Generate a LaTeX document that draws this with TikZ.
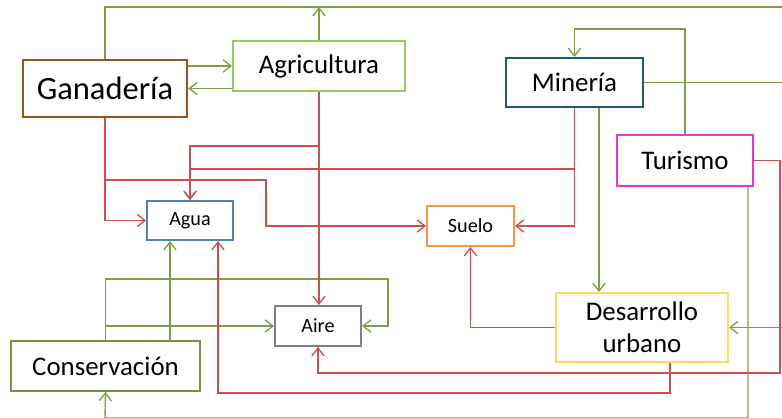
\documentclass[tikz,border=0pt]{standalone}
\usepackage{fontspec}
\setmainfont{Carlito}
\usetikzlibrary{arrows.meta, positioning, calc}
\usepackage{xcolor}
\definecolor{lineGreen}{HTML}{7E9F46}
\definecolor{lineRed}{HTML}{C9504D}
\definecolor{ganColor}{HTML}{A0501A}
\definecolor{agrColor}{HTML}{9BC95B}
\definecolor{minColor}{HTML}{23596B}
\definecolor{turColor}{HTML}{E03AD6}
\definecolor{aguaColor}{HTML}{4F81BD}
\definecolor{sueloColor}{HTML}{F79646}
\definecolor{aireColor}{HTML}{808080}
\definecolor{desColor}{HTML}{FFD966}
\definecolor{conColor}{HTML}{77933C}

\begin{document}
\begin{tikzpicture}[x=0.02cm, y=-0.02cm,
    box/.style={draw, line width=1.1pt, fill=white, align=center, inner sep=0pt},
    bigtext/.style={font=\fontsize{15.3}{18}\selectfont},
    smalltext/.style={font=\fontsize{11.5}{13}\selectfont},
    gline/.style={draw=lineGreen, line width=0.75pt},
    rline/.style={draw=lineRed, line width=0.75pt},
    >={Straight Barb[length=4.5pt,width=7pt]}]
    \useasboundingbox (0,0) rectangle (782,417);
    \clip (0,0) rectangle (782,417);
    % Sources
    \node[box, draw=ganColor, line width=1.4pt, minimum width=3.28cm, minimum height=1.14cm,
          font=\fontsize{18.5}{20}\selectfont] (gan) at (105,88.5) {Ganadería};
    \node[box, bigtext, draw=agrColor, minimum width=3.44cm, minimum height=1cm] (agr) at (319,66) {Agricultura};
    \node[box, bigtext, draw=minColor, minimum width=2.74cm, minimum height=0.98cm] (min) at (574.5,82.5) {Minería};
    \node[box, bigtext, draw=turColor, minimum width=2.72cm, minimum height=1.02cm] (tur) at (685,160.5) {Turismo};
    \node[box, bigtext, draw=desColor, minimum width=3.44cm, minimum height=1.38cm] (des) at (642,327.5) {Desarrollo\\urbano};
    \node[box, bigtext, draw=conColor, minimum width=3.78cm, minimum height=1cm] (con) at (105.5,366) {Conservación};
    % Resources
    \node[box, smalltext, draw=aguaColor, minimum width=1.72cm, minimum height=0.78cm] (agua) at (190,220.5) {Agua};
    \node[box, smalltext, draw=sueloColor, minimum width=1.74cm, minimum height=0.8cm] (suelo) at (470.5,226) {Suelo};
    \node[box, smalltext, draw=aireColor, minimum width=1.72cm, minimum height=0.8cm] (aire) at (318,326) {Aire};
    % Free ends and offsets
    \coordinate (eTop) at (800,7);
    \coordinate (m2) at ($(min.south)+(24.5,0)$);
    \coordinate (t2) at ($(tur.south)+(63,0)$);
    \coordinate (c2) at ($(con.north)+(64.5,0)$);
    \coordinate (d2) at ($(des.south)+(28,0)$);
    \coordinate (a2) at ($(agua.south)+(28,0)$);
    % Green links
    \draw[gline] (gan.north) |- (eTop);
    \draw[gline,->] (agr.north) -- (agr.north |- eTop);
    \draw[gline,->] (gan.east |- agr.west) -- (agr.west);
    \draw[gline,->] (agr.west |- gan.east) -- (gan.east);
    \draw[gline,->] (tur.north) -- ++(0,-105) -| (min.north);
    \draw[gline,->] (m2) -- (m2 |- des.north);
    \draw[gline,->] (min.east) -| (792,300) |- (des.east);
    \draw[gline,->] (t2) |- (105,418) -- (con.south);
    \draw[gline,->] (c2) -- (c2 |- agua.south);
    \draw[gline,->] (con.north) |- (aire.west);
    \draw[gline,->] (con.north) |- (388,279) |- (aire.east);
    % Red links
    \draw[rline,->] (agr.south) -- (agr.south |- aire.north);
    \draw[rline,->] (agr.south) -- ++(0,54) -| (agua.north);
    \draw[rline,->] (min.south) |- (suelo.east);
    \draw[rline,->] (min.south) -- ++(0,61) -| (agua.north);
    \draw[rline,->] (gan.south) |- (agua.west);
    \draw[rline,->] (gan.south) |- (266,180) |- (suelo.west);
    \draw[rline,->] (tur.east) -| (780,373) -| (aire.south);
    \draw[rline,->] (des.west) -| (suelo.south);
    \draw[rline,->] (d2) -- ++(0,30) -| (a2);
\end{tikzpicture}
\end{document}
